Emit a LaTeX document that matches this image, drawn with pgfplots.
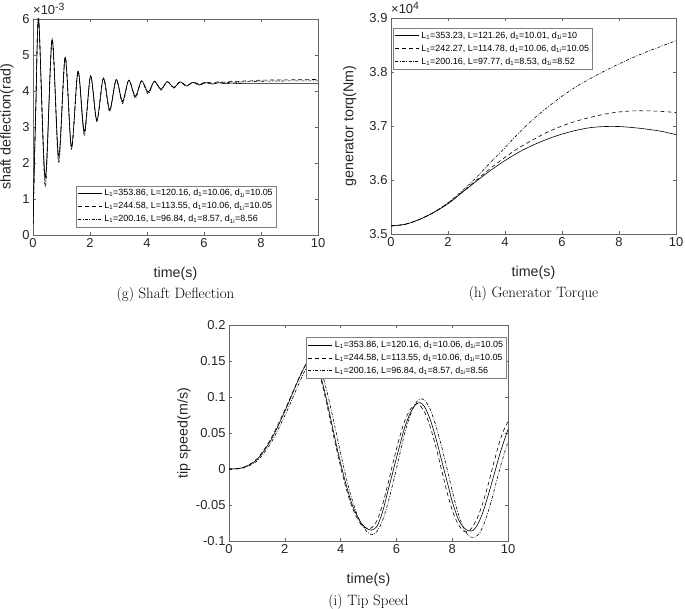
\documentclass[border=0pt]{standalone}
\usepackage{fontspec}
\usepackage{pgfplots}
\pgfplotsset{compat=1.18}
\newfontfamily\arial{Liberation Sans}
\definecolor{mtext}{RGB}{38,38,38}

\pgfplotsset{
  mstyle/.style={
    scale only axis, width=285bp, height=216bp,
    xmin=0, xmax=10, clip mode=individual,
    xtick={0,2,4,6,8,10}, xticklabels={0,2,4,6,8,10},
    tick align=inside, major tick length=3bp,
    axis line style={black!60, line width=0.5bp},
    tick style={black!60, line width=0.5bp},
    ticklabel style={font=\arial\fontsize{13}{15}\selectfont, text=mtext},
    label style={font=\arial\fontsize{14.3}{16}\selectfont, text=mtext},
    xlabel={time(s)},
    xlabel style={at={(axis description cs:0.5,-0.18)}, anchor=center},
    legend style={font=\arial\fontsize{9}{10.5}\selectfont, draw=black!50,
      line width=0.5bp, fill=white, inner sep=1.5bp, row sep=1bp,
      cells={anchor=west}},
    legend image code/.code={\draw[#1] (0bp,0bp) -- (24bp,0bp);},
    every axis plot/.append style={black, line width=0.6bp, smooth, no markers},
  },
}
\tikzset{
  sol/.style={solid},
  dsh/.style={dash pattern=on 4bp off 3bp},
  ddt/.style={dash pattern=on 3bp off 1.5bp on 0.8bp off 1.5bp},
  expo/.style={font=\arial\fontsize{13}{15}\selectfont, text=mtext,
    anchor=base west, inner sep=0pt},
}
\newcommand{\expsup}[1]{\raisebox{4.5bp}{\fontsize{10.5}{12}\selectfont #1}}

\begin{document}
\begin{tikzpicture}
\path[use as bounding box] (0,0) rectangle (685bp,609bp);

% (g) shaft deflection, values in 1e-3 rad
\begin{axis}[mstyle, at={(33bp,374bp)}, anchor=south west,
    ymin=0, ymax=6, ytick={0,1,2,3,4,5,6}, yticklabels={0,1,2,3,4,5,6},
    ylabel={shaft deflection(rad)},
    ylabel style={at={(axis description cs:-0.056,0.5)}, anchor=south},
    legend style={at={(0.151,0.037)}, anchor=south west}]
\addplot[sol] coordinates {
 (0,0.3) (0.1,3.6) (0.2,5.95) (0.43,1.6) (0.67,5.42) (0.9,2.2) (1.13,4.93)
 (1.35,2.45) (1.58,4.55) (1.8,2.88) (2.02,4.42) (2.24,3.2) (2.47,4.36)
 (2.69,3.48) (2.92,4.32) (3.14,3.72) (3.36,4.3) (3.59,3.86) (3.81,4.28)
 (4.04,3.97) (4.26,4.27) (4.49,4.05) (4.71,4.26) (4.94,4.1) (5.16,4.25)
 (5.39,4.14) (5.61,4.24) (5.84,4.17) (6.06,4.23) (6.29,4.19) (6.51,4.23)
 (6.74,4.2) (6.96,4.22) (7.19,4.205) (7.41,4.215) (7.64,4.21) (8,4.21)
 (9,4.21) (10,4.21)};
\addlegendentry{L\textsubscript{1}=353.86, L=120.16, d\textsubscript{1}=10.06, d\textsubscript{1i}=10.05}
\addplot[dsh] coordinates {
 (0,0.3) (0.1,3.6) (0.2,5.97) (0.43,1.5) (0.67,5.44) (0.9,2.1) (1.13,4.94)
 (1.35,2.42) (1.58,4.55) (1.8,2.83) (2.02,4.42) (2.24,3.17) (2.47,4.36)
 (2.69,3.46) (2.92,4.32) (3.14,3.7) (3.36,4.3) (3.59,3.84) (3.81,4.28)
 (4.04,3.96) (4.26,4.27) (4.49,4.05) (4.71,4.26) (4.94,4.1) (5.16,4.26)
 (5.39,4.15) (5.61,4.25) (5.84,4.19) (6.06,4.25) (6.29,4.22) (6.51,4.26)
 (6.74,4.24) (6.96,4.27) (7.19,4.26) (7.41,4.28) (7.64,4.28) (8,4.3)
 (9,4.31) (10,4.32)};
\addlegendentry{L\textsubscript{1}=244.58, L=113.55, d\textsubscript{1}=10.06, d\textsubscript{1i}=10.05}
\addplot[ddt] coordinates {
 (0,0.3) (0.1,3.6) (0.2,6.05) (0.43,1.33) (0.67,5.45) (0.9,2.0) (1.13,4.95)
 (1.35,2.38) (1.58,4.56) (1.8,2.77) (2.02,4.42) (2.24,3.15) (2.47,4.36)
 (2.69,3.43) (2.92,4.32) (3.14,3.65) (3.36,4.3) (3.59,3.8) (3.81,4.28)
 (4.04,3.92) (4.26,4.27) (4.49,4.02) (4.71,4.26) (4.94,4.08) (5.16,4.25)
 (5.39,4.13) (5.61,4.24) (5.84,4.16) (6.06,4.24) (6.29,4.2) (6.51,4.24)
 (6.74,4.22) (6.96,4.25) (7.19,4.24) (7.41,4.26) (7.64,4.26) (8,4.27)
 (9,4.28) (10,4.28)};
\addlegendentry{L\textsubscript{1}=200.16, L=96.84, d\textsubscript{1}=8.57, d\textsubscript{1i}=8.56}
\node[expo] at (rel axis cs:0,1) [yshift=4bp] {×10\expsup{-3}};
\node[font=\fontsize{15}{18}\selectfont] at (axis description cs:0.5,-0.275) {(g) Shaft Deflection};
\end{axis}

% (h) generator torque, values in 1e4 Nm
\begin{axis}[mstyle, at={(391bp,375bp)}, anchor=south west,
    ymin=3.5, ymax=3.9, ytick={3.5,3.6,3.7,3.8,3.9},
    yticklabels={3.5,3.6,3.7,3.8,3.9},
    ylabel={generator torq(Nm)},
    ylabel style={at={(axis description cs:-0.109,0.5)}, anchor=south},
    legend style={at={(0.007,0.954)}, anchor=north west}]
\addplot[sol] coordinates {
 (0,3.515) (0.5,3.518) (1,3.527) (1.5,3.54) (2,3.556) (2.5,3.577) (3,3.598)
 (3.5,3.618) (4,3.636) (4.5,3.652) (5,3.665) (5.5,3.676) (6,3.685)
 (6.5,3.692) (7,3.697) (7.5,3.699) (8,3.699) (8.5,3.697) (9,3.694)
 (9.5,3.69) (10,3.684)};
\addlegendentry{L\textsubscript{1}=353.23, L=121.26, d\textsubscript{1}=10.01, d\textsubscript{1i}=10}
\addplot[dsh] coordinates {
 (0,3.515) (0.5,3.518) (1,3.527) (1.5,3.54) (2,3.557) (2.5,3.578) (3,3.6)
 (3.5,3.622) (4,3.642) (4.5,3.66) (5,3.675) (5.5,3.689) (6,3.7)
 (6.5,3.709) (7,3.716) (7.5,3.722) (8,3.726) (8.5,3.728) (9,3.728)
 (9.5,3.727) (10,3.725)};
\addlegendentry{L\textsubscript{1}=242.27, L=114.78, d\textsubscript{1}=10.06, d\textsubscript{1i}=10.05}
\addplot[ddt] coordinates {
 (0,3.515) (0.5,3.518) (1,3.527) (1.5,3.54) (2,3.558) (2.5,3.58) (3,3.605)
 (3.5,3.633) (4,3.66) (4.5,3.688) (5,3.713) (5.5,3.735) (6,3.755)
 (6.5,3.773) (7,3.788) (7.5,3.802) (8,3.815) (8.5,3.827) (9,3.838)
 (9.5,3.848) (10,3.858)};
\addlegendentry{L\textsubscript{1}=200.16, L=97.77, d\textsubscript{1}=8.53, d\textsubscript{1i}=8.52}
\node[expo] at (rel axis cs:0,1) [yshift=4bp] {×10\expsup{4}};
\node[font=\fontsize{15}{18}\selectfont] at (axis description cs:0.5,-0.275) {(h) Generator Torque};
\end{axis}

% (i) tip speed
\begin{axis}[mstyle, width=279bp, at={(229bp,68bp)}, anchor=south west,
    ymin=-0.1, ymax=0.2, ytick={-0.1,-0.05,0,0.05,0.1,0.15,0.2},
    yticklabels={-0.1,-0.05,0,0.05,0.1,0.15,0.2},
    ylabel={tip speed(m/s)},
    ylabel style={at={(axis description cs:-0.125,0.5)}, anchor=south},
    legend style={at={(0.996,0.944)}, anchor=north east}]
\addplot[sol] coordinates {
 (0,0) (0.5,0.002) (1,0.013) (1.5,0.04) (2,0.08) (2.5,0.125) (2.8,0.148)
 (3.0,0.152) (3.2,0.14) (3.4,0.112) (3.6,0.078) (3.8,0.042) (4.0,0.008)
 (4.2,-0.022) (4.4,-0.048) (4.6,-0.066) (4.8,-0.078) (5.0,-0.084)
 (5.1,-0.085) (5.3,-0.08) (5.5,-0.06) (5.7,-0.03) (5.9,0.0) (6.1,0.03)
 (6.3,0.058) (6.5,0.078) (6.7,0.09) (6.85,0.092) (7.0,0.087) (7.2,0.07)
 (7.4,0.045) (7.6,0.015) (7.8,-0.015) (8.0,-0.045) (8.2,-0.068)
 (8.4,-0.081) (8.6,-0.086) (8.75,-0.085) (8.9,-0.078) (9.1,-0.06)
 (9.3,-0.035) (9.5,-0.008) (9.7,0.02) (9.85,0.038) (10,0.055)};
\addlegendentry{L\textsubscript{1}=353.86, L=120.16, d\textsubscript{1}=10.06, d\textsubscript{1i}=10.05}
\addplot[dsh] coordinates {
 (0,0) (0.5,0.002) (1,0.014) (1.5,0.042) (2,0.082) (2.5,0.126) (2.8,0.148)
 (3.0,0.151) (3.2,0.138) (3.4,0.108) (3.6,0.073) (3.8,0.037) (4.0,0.003)
 (4.2,-0.027) (4.4,-0.052) (4.6,-0.069) (4.8,-0.08) (5.0,-0.083)
 (5.1,-0.082) (5.3,-0.072) (5.5,-0.05) (5.7,-0.02) (5.9,0.012) (6.1,0.042)
 (6.3,0.067) (6.5,0.083) (6.7,0.09) (6.8,0.09) (7.0,0.08) (7.2,0.06)
 (7.4,0.033) (7.6,0.002) (7.8,-0.03) (8.0,-0.057) (8.2,-0.076)
 (8.4,-0.086) (8.55,-0.087) (8.7,-0.082) (8.9,-0.068) (9.1,-0.047)
 (9.3,-0.02) (9.5,0.01) (9.7,0.038) (9.85,0.054) (10,0.066)};
\addlegendentry{L\textsubscript{1}=244.58, L=113.55, d\textsubscript{1}=10.06, d\textsubscript{1i}=10.05}
\addplot[ddt] coordinates {
 (0,0) (0.5,0.001) (1,0.011) (1.5,0.036) (2,0.074) (2.5,0.118) (2.8,0.143)
 (3.0,0.152) (3.2,0.146) (3.4,0.124) (3.6,0.093) (3.8,0.058) (4.0,0.022)
 (4.2,-0.012) (4.4,-0.041) (4.6,-0.064) (4.8,-0.08) (5.0,-0.089)
 (5.15,-0.091) (5.3,-0.087) (5.5,-0.072) (5.7,-0.047) (5.9,-0.016)
 (6.1,0.017) (6.3,0.05) (6.5,0.075) (6.7,0.092) (6.85,0.097) (7.0,0.096)
 (7.2,0.084) (7.4,0.062) (7.6,0.034) (7.8,0.003) (8.0,-0.03) (8.2,-0.06)
 (8.4,-0.081) (8.6,-0.093) (8.8,-0.095) (9.0,-0.088) (9.2,-0.07)
 (9.4,-0.045) (9.6,-0.015) (9.8,0.013) (10,0.038)};
\addlegendentry{L\textsubscript{1}=200.16, L=96.84, d\textsubscript{1}=8.57, d\textsubscript{1i}=8.56}
\node[font=\fontsize{15}{18}\selectfont] at (axis description cs:0.5,-0.283) {(i) Tip Speed};
\end{axis}
\end{tikzpicture}
\end{document}
